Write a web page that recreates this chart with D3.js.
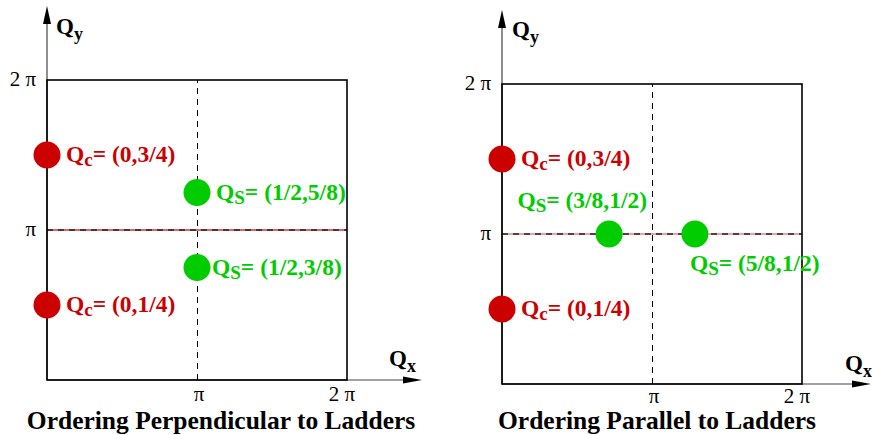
<!DOCTYPE html>
<html><head><meta charset="utf-8">
<script src="https://cdn.jsdelivr.net/npm/d3@7"></script>
<style>html,body{margin:0;padding:0;background:#fff;} svg{display:block;}</style>
</head><body>
<svg id="chart" width="872" height="435"></svg>
<script>
// ---------- data ----------
const tickValues = [0.5, 1];               // fractions of 2π
const tickLabels = ["π", "2 π"];
const panelTitles = ["Ordering Perpendicular to Ladders", "Ordering Parallel to Ladders"];

const perpChargeQx = [0, 0];
const perpChargeQy = [0.75, 0.25];
const perpChargeLabels = ["(0,3/4)", "(0,1/4)"];
const perpSpinQx = [0.5, 0.5];
const perpSpinQy = [0.625, 0.375];
const perpSpinLabels = ["(1/2,5/8)", "(1/2,3/8)"];

const parChargeQx = [0, 0];
const parChargeQy = [0.75, 0.25];
const parChargeLabels = ["(0,3/4)", "(0,1/4)"];
const parSpinQx = [0.357, 0.643];
const parSpinQy = [0.5, 0.5];
const parSpinLabels = ["(3/8,1/2)", "(5/8,1/2)"];

// ---------- layout ----------
const RED = "#cc0000", GREEN = "#00cc00";
const SERIF = "'Liberation Serif','Times New Roman',Times,serif";
const panels = [
  { x0: 47, y0: 80, size: 300, yTip: 6, xTip: 422, lineColor: "#e03030", tickDy: 21,
    qyPos: [56, 34], qxPos: [389, 366],
    charge: { qx: perpChargeQx, qy: perpChargeQy, labels: perpChargeLabels, off: [[19, 7, "start"], [19, 7, "start"]] },
    spin:   { qx: perpSpinQx, qy: perpSpinQy, labels: perpSpinLabels, off: [[19, 7, "start"], [15, 7, "start"]] },
    title: panelTitles[0], titleX: 221 },
  { x0: 502, y0: 84, size: 300, yTip: 10, xTip: 871, lineColor: "#f08080", tickDy: 19,
    qyPos: [512, 37], qxPos: [845, 371],
    charge: { qx: parChargeQx, qy: parChargeQy, labels: parChargeLabels, off: [[19, 7, "start"], [19, 7, "start"]] },
    spin:   { qx: parSpinQx, qy: parSpinQy, labels: parSpinLabels, off: [[38, -26, "end"], [-5, 37, "start"]] },
    title: panelTitles[1], titleX: 657 }
];

const svg = d3.select("#chart");

panels.forEach((p, i) => {
  const x = d3.scaleLinear().domain([0, 1]).range([p.x0, p.x0 + p.size]);
  const y = d3.scaleLinear().domain([0, 1]).range([p.y0 + p.size, p.y0]);
  const g = svg.append("g");

  // axes extensions with arrowheads
  const bx = x(0), by = y(0);
  g.append("line").attr("x1", bx).attr("y1", by).attr("x2", bx).attr("y2", p.yTip + 14)
    .attr("stroke", "#444").attr("stroke-width", 1.2);
  g.append("path").attr("d", `M${bx},${p.yTip} L${bx - 4},${p.yTip + 18} L${bx + 4},${p.yTip + 18} Z`).attr("fill", "#000");
  g.append("line").attr("x1", bx).attr("y1", by).attr("x2", p.xTip - 14).attr("y2", by)
    .attr("stroke", "#444").attr("stroke-width", 1.2);
  g.append("path").attr("d", `M${p.xTip},${by} L${p.xTip - 19},${by - 3.5} L${p.xTip - 19},${by + 3.5} Z`).attr("fill", "#000");

  // π lines
  g.append("line").attr("x1", x(0)).attr("x2", x(1)).attr("y1", y(0.5)).attr("y2", y(0.5))
    .attr("stroke", p.lineColor).attr("stroke-width", 1.6);
  g.append("line").attr("x1", x(0)).attr("x2", x(1)).attr("y1", y(0.5)).attr("y2", y(0.5))
    .attr("stroke", "#222").attr("stroke-width", 1.3).attr("stroke-dasharray", "6,5");
  g.append("line").attr("x1", x(0.5) + 0.5).attr("x2", x(0.5) + 0.5).attr("y1", y(0)).attr("y2", y(1))
    .attr("stroke", "#000").attr("stroke-width", 1).attr("stroke-dasharray", "6,5")
    .attr("shape-rendering", "crispEdges");

  // box
  g.append("rect").attr("x", x(0)).attr("y", y(1)).attr("width", x(1) - x(0)).attr("height", y(0) - y(1))
    .attr("fill", "none").attr("stroke", "#000").attr("stroke-width", 1.6);

  // tick labels
  g.selectAll(".tx").data(tickValues).join("text")
    .attr("x", (d, k) => x(d) + (k === 0 ? 2 : -5)).attr("y", y(0) + p.tickDy)
    .attr("text-anchor", "middle").attr("font-family", SERIF).attr("font-size", 21)
    .text((d, k) => tickLabels[k]);
  g.selectAll(".ty").data(tickValues).join("text")
    .attr("x", x(0) - 11).attr("y", d => y(d) + 6)
    .attr("text-anchor", "end").attr("font-family", SERIF).attr("font-size", 21)
    .text((d, k) => tickLabels[k]);

  // axis names
  function qLabel(pos, sub) {
    const t = g.append("text").attr("x", pos[0]).attr("y", pos[1])
      .attr("font-family", SERIF).attr("font-weight", "bold").attr("font-size", 23);
    t.append("tspan").text("Q");
    t.append("tspan").attr("dy", 6).attr("font-size", 18).text(sub);
  }
  qLabel(p.qyPos, "y");
  qLabel(p.qxPos, "x");

  // points + labels
  function series(s, color, sub) {
    const data = s.qx.map((v, k) => ({ qx: v, qy: s.qy[k], label: s.labels[k], off: s.off[k] }));
    g.selectAll(null).data(data).join("circle")
      .attr("cx", d => x(d.qx)).attr("cy", d => y(d.qy)).attr("r", 13.5).attr("fill", color);
    const t = g.selectAll(null).data(data).join("text")
      .attr("x", d => x(d.qx) + d.off[0]).attr("y", d => y(d.qy) + d.off[1])
      .attr("text-anchor", d => d.off[2])
      .attr("font-family", SERIF).attr("font-weight", "bold").attr("font-size", 23.5).attr("fill", color);
    t.append("tspan").text("Q");
    t.append("tspan").attr("dy", 4).attr("font-size", 19).text(sub);
    t.append("tspan").attr("dy", -4).text(d => "= " + d.label);
  }
  series(p.charge, RED, "c");
  series(p.spin, GREEN, "S");

  // title
  g.append("text").attr("x", p.titleX).attr("y", 429).attr("text-anchor", "middle")
    .attr("font-family", SERIF).attr("font-weight", "bold").attr("font-size", 25.5)
    .text(p.title);
});
</script>
</body></html>
